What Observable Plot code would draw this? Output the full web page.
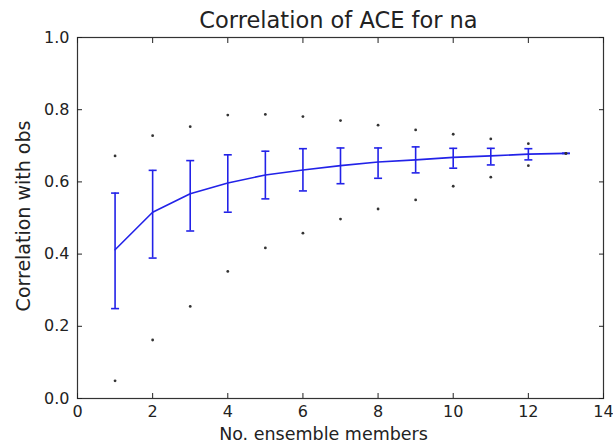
<!DOCTYPE html>
<html>
<head>
<meta charset="utf-8">
<script src="https://cdn.jsdelivr.net/npm/d3@7"></script>
<script src="https://cdn.jsdelivr.net/npm/@observablehq/plot@0.6"></script>
<style>
  html, body { margin: 0; padding: 0; background: #fff; }
  #chart svg { display: block; }
</style>
</head>
<body>
<div id="chart"></div>
<script>
const titleText = "Correlation of ACE for na";
const xLabel = "No. ensemble members";
const yLabel = "Correlation with obs";

const members  = [1, 2, 3, 4, 5, 6, 7, 8, 9, 10, 11, 12, 13];
const meanCorr = [0.412, 0.516, 0.567, 0.597, 0.619, 0.633, 0.645, 0.655, 0.661, 0.668, 0.672, 0.677, 0.679];
const errLow   = [0.249, 0.389, 0.464, 0.516, 0.553, 0.575, 0.595, 0.610, 0.625, 0.638, 0.647, 0.661, 0.679];
const errHigh  = [0.569, 0.632, 0.659, 0.675, 0.685, 0.692, 0.694, 0.694, 0.697, 0.693, 0.693, 0.692, 0.679];
const minCorr  = [0.049, 0.162, 0.255, 0.352, 0.417, 0.458, 0.497, 0.525, 0.550, 0.588, 0.613, 0.645, 0.679];
const maxCorr  = [0.672, 0.728, 0.753, 0.785, 0.787, 0.781, 0.770, 0.757, 0.744, 0.732, 0.719, 0.706, 0.679];

const xTicks = [0, 2, 4, 6, 8, 10, 12, 14];
const yTicks = [0, 0.2, 0.4, 0.6, 0.8, 1.0];

const rows = members.map((m, i) => ({
  m, mean: meanCorr[i], lo: errLow[i], hi: errHigh[i], min: minCorr[i], max: maxCorr[i]
}));
const extremes = rows.flatMap(r => [{m: r.m, v: r.min}, {m: r.m, v: r.max}]);
const caps = rows.flatMap(r => [{m: r.m, v: r.lo}, {m: r.m, v: r.hi}]);

const hLine = {
  draw(context, size) {
    const r = Math.sqrt(size / Math.PI);
    context.moveTo(-r, 0);
    context.lineTo(r, 0);
  }
};

const blue = "#2222e8";
const font = "DejaVu Sans";

const chart = Plot.plot({
  width: 613,
  height: 445,
  marginLeft: 77,
  marginRight: 10,
  marginTop: 37,
  marginBottom: 47,
  style: { fontFamily: font, fontSize: "16px", color: "#222", background: "#fff" },
  x: { domain: [0, 14] },
  y: { domain: [0, 1] },
  marks: [
    Plot.line(rows, { x: "m", y: "mean", stroke: blue, strokeWidth: 1.6 }),
    Plot.ruleX(rows, { x: "m", y1: "lo", y2: "hi", stroke: blue, strokeWidth: 1.6 }),
    Plot.dot(caps, { x: "m", y: "v", symbol: hLine, r: 4, stroke: blue, strokeWidth: 1.6 }),
    Plot.dot(extremes, { x: "m", y: "v", r: 1.4, fill: "#333", stroke: null }),
    Plot.frame({ stroke: "#333", strokeWidth: 1.2 }),
    Plot.axisX({ anchor: "bottom", ticks: xTicks, tickSize: -5, tickPadding: 12, tickFormat: d3.format("d"), fontSize: 16, label: null }),
    Plot.axisX({ anchor: "top", ticks: xTicks, tickSize: -5, tickFormat: () => "", label: null }),
    Plot.axisY({ anchor: "left", ticks: yTicks, tickSize: -5, tickPadding: 13, tickFormat: d3.format(".1f"), fontSize: 16, label: null }),
    Plot.axisY({ anchor: "right", ticks: yTicks, tickSize: -5, tickFormat: () => "", label: null }),
    Plot.text([titleText], { frameAnchor: "top", lineAnchor: "middle", dy: -17, dx: -2, fontSize: 22.5, fill: "#222" }),
    Plot.text([xLabel], { frameAnchor: "bottom", lineAnchor: "middle", dy: 35.5, dx: -17, fontSize: 17.5, fill: "#222" }),
    Plot.text([yLabel], { frameAnchor: "left", textAnchor: "middle", lineAnchor: "middle", dx: -54, dy: -2, rotate: -90, fontSize: 19, fill: "#222" })
  ]
});
document.getElementById("chart").appendChild(chart);
</script>
</body>
</html>
